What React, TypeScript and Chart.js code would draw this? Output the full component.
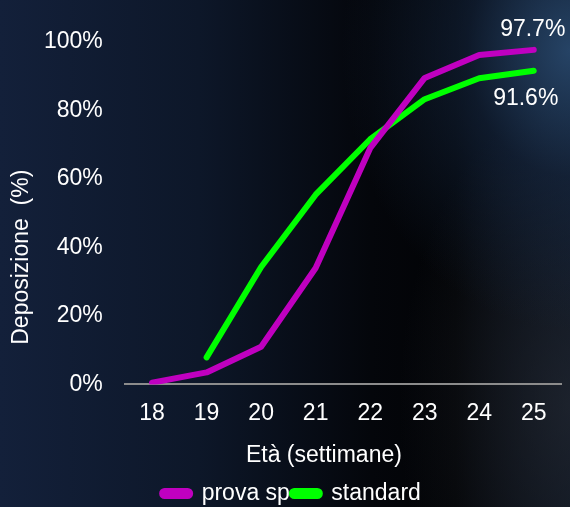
import React, { useEffect, useRef } from "react";
import { Chart, registerables } from "chart.js";

Chart.register(...registerables);

const categories = ["18", "19", "20", "21", "22", "23", "24", "25"];
const provaSp = [0.5, 3.5, 11, 34, 69, 89.5, 96.2, 97.7];
const standard = [null, 7.9, 34.3, 55.4, 71.6, 83.3, 89.4, 91.6];
const yTicks = [0, 20, 40, 60, 80, 100];
const seriesNames = ["prova sp", "standard"];
const seriesColors = ["#C000C0", "#00FF00"];
const xTitle = "Età (settimane)";
const yTitle = "Deposizione  (%)";

const FONT = "'Liberation Sans', Arial, Helvetica, sans-serif";

const endLabelPlugin = {
  id: "endLabels",
  afterDatasetsDraw(chart: any) {
    const ctx = chart.ctx;
    const offsets = [
      { dx: -1, dy: -20 },
      { dx: -8, dy: 28 },
    ];
    ctx.save();
    ctx.font = `23px ${FONT}`;
    ctx.fillStyle = "#ffffff";
    ctx.textAlign = "center";
    ctx.textBaseline = "middle";
    chart.data.datasets.forEach((ds: any, i: number) => {
      const meta = chart.getDatasetMeta(i);
      const last = meta.data[meta.data.length - 1];
      const v = ds.data[ds.data.length - 1];
      if (!last || v == null) return;
      const o = offsets[i] || { dx: 0, dy: -20 };
      ctx.fillText(`${v.toFixed(1)}%`, last.x + o.dx, last.y + o.dy);
    });
    ctx.restore();
  },
};

const axisTitlePlugin = {
  id: "axisTitles",
  afterDraw(chart: any) {
    const ctx = chart.ctx;
    const a = chart.chartArea;
    ctx.save();
    ctx.font = `23px ${FONT}`;
    ctx.fillStyle = "#ffffff";
    ctx.textAlign = "center";
    ctx.textBaseline = "middle";
    ctx.fillText(xTitle, (a.left + a.right) / 2 - 19, a.bottom + 71);
    ctx.translate(22, (a.top + a.bottom) / 2 + 44);
    ctx.rotate(-Math.PI / 2);
    ctx.fillText(yTitle, 0, 0);
    ctx.restore();
  },
};

export default function App() {
  const ref = useRef<HTMLCanvasElement>(null);
  useEffect(() => {
    if (!ref.current) return;
    const chart = new Chart(ref.current, {
      type: "line",
      data: {
        labels: categories,
        datasets: [
          {
            label: seriesNames[0],
            data: provaSp,
            borderColor: seriesColors[0],
            backgroundColor: seriesColors[0],
            borderWidth: 6,
            borderCapStyle: "round",
            borderJoinStyle: "round",
            pointRadius: 0,
            tension: 0,
          },
          {
            label: seriesNames[1],
            data: standard,
            borderColor: seriesColors[1],
            backgroundColor: seriesColors[1],
            borderWidth: 6,
            borderCapStyle: "round",
            borderJoinStyle: "round",
            pointRadius: 0,
            tension: 0,
          },
        ],
      },
      options: {
        animation: false,
        responsive: true,
        maintainAspectRatio: false,
        layout: { padding: { left: 22, right: 9, top: 42, bottom: -8 } },
        plugins: {
          legend: {
            position: "bottom",
            labels: {
              color: "#ffffff",
              font: { family: FONT, size: 23, lineHeight: 1 },
              boxWidth: 28,
              boxHeight: 5,
              useBorderRadius: true,
              borderRadius: 2.5,
              padding: 2,
            },
          },
          tooltip: { enabled: false },
        },
        scales: {
          x: {
            offset: true,
            grid: { display: false, drawTicks: false },
            border: { display: true, color: "#8c8c8c", width: 2 },
            ticks: {
              color: "#ffffff",
              font: { family: FONT, size: 23 },
              padding: 15,
            },
            afterFit: (scale: any) => {
              scale.height = scale.height + 38;
            },
          },
          y: {
            min: 0,
            max: 100,
            afterBuildTicks: (scale: any) => {
              scale.ticks = yTicks.map((v) => ({ value: v }));
            },
            grid: { display: false, drawTicks: false },
            border: { display: false },
            ticks: {
              color: "#ffffff",
              font: { family: FONT, size: 23 },
              padding: 22,
              callback: (v: any) => `${v}%`,
            },
          },
        },
      },
      plugins: [endLabelPlugin, axisTitlePlugin],
    } as any);
    return () => chart.destroy();
  }, []);

  return (
    <div
      style={{
        position: "absolute",
        left: 0,
        top: 0,
        width: 570,
        height: 507,
        overflow: "hidden",
        background:
          "radial-gradient(ellipse 40% 55% at 100% 10%, rgba(45,80,120,0.8) 0%, rgba(25,45,75,0.5) 45%, rgba(0,0,0,0) 100%), radial-gradient(ellipse 30% 60% at 100% 80%, rgba(40,45,55,0.6) 0%, rgba(0,0,0,0) 100%), linear-gradient(90deg, #13203a 0%, #0d1729 35%, #04060b 65%, #020305 80%, #0a111c 100%)",
      }}
    >
      <canvas ref={ref} style={{ width: 570, height: 507 }} />
    </div>
  );
}
